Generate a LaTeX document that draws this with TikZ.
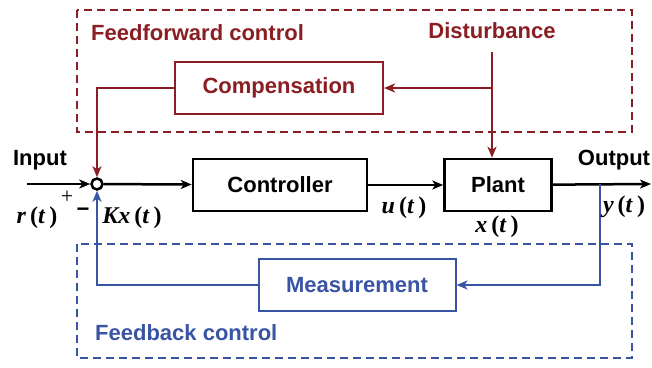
\documentclass[tikz,border=0pt]{standalone}
\usepackage{fontspec}
\setmainfont{Liberation Sans}
\newfontfamily\tnr{Liberation Serif}
\usetikzlibrary{arrows.meta}
\definecolor{ffred}{RGB}{139,30,34}
\definecolor{fbblue}{RGB}{58,84,164}
\newcommand\fn[1]{\textit{#1}\,(\textit{t}\,)}
\tikzset{
  block/.style={draw, line width=2.5pt, fill=white, font=\fontsize{22}{26}\selectfont\bfseries},
  sig/.style={line width=2.5pt, -{Stealth[length=11pt,width=9pt,inset=3pt]}},
  region/.style={line width=2pt, dash pattern=on 8pt off 5pt},
  txt/.style={font=\fontsize{22}{26}\selectfont\bfseries, inner sep=0pt},
  mth/.style={font=\fontsize{24}{28}\selectfont\tnr\bfseries, inner sep=0pt}
}

\begin{document}
\begin{tikzpicture}[x=1pt,y=-1pt]
    \useasboundingbox (0,0) rectangle (652,367); % same size as the reference

    % dashed regions
    \draw [region, ffred] (77,10) rectangle (632,132);
    \draw [region, fbblue] (77,244) rectangle (632,358);
    \node [txt, ffred, anchor=west] (fflabel) at (91,33) {Feedforward control};
    \node [txt, fbblue, anchor=west] (fblabel) at (95,333) {Feedback control};
    \node [txt, ffred] (distlabel) at (492,31) {Disturbance};

    % blocks
    \node [block, minimum width=174pt, minimum height=52pt] (ctrl) at (280,185) {Controller};
    \node [block, minimum width=107pt, minimum height=52pt] (plant) at (498,185) {Plant};
    \node [block, draw=ffred, text=ffred, line width=2pt, minimum width=208pt, minimum height=52pt] (comp) at (279,88) {Compensation};
    \node [block, draw=fbblue, text=fbblue, line width=2pt, minimum width=197pt, minimum height=52pt] (meas) at (357,285) {Measurement};
    \node [draw, circle, line width=2.5pt, fill=white, minimum size=11pt, inner sep=0pt] (sum) at (97,184) {};

    \coordinate (in) at (27,184);
    \coordinate (out) at (651,184);
    \coordinate (dist) at (492,52);
    \coordinate (tap) at (600,184);

    % main path
    \draw [sig] (in) -- (sum);
    \draw [sig] (sum) -- (ctrl);
    \draw [sig] (ctrl) -- (plant);
    \draw [sig] (plant) -- (out);

    % feedforward
    \draw [sig, ffred, line width=2pt] (dist) -- (dist |- plant.north);
    \draw [sig, ffred, line width=2pt] (dist |- comp) -- (comp);
    \draw [sig, ffred, line width=2pt] (comp) -| (sum);

    % feedback
    \draw [sig, fbblue, line width=2pt] (tap) |- (meas);
    \draw [sig, fbblue, line width=2pt] (meas) -| (sum);

    % signal labels
    \node [txt] (inlabel) at (40,160) {Input};
    \node [txt] (outlabel) at (614,160) {Output};
    \node [font=\fontsize{22}{26}\selectfont\tnr, inner sep=0pt] (plus) at (67,197) {+};
    \node [txt] (minus) at (83,212) {\textminus};
    \node [mth] (r) at (37,218) {\fn{r}};
    \node [mth] (kx) at (132,218) {\fn{Kx}};
    \node [mth] (u) at (404,208) {\fn{u}};
    \node [mth] (x) at (497,227) {\fn{x}};
    \node [mth] (y) at (624,207) {\fn{y}};
\end{tikzpicture}
\end{document}
